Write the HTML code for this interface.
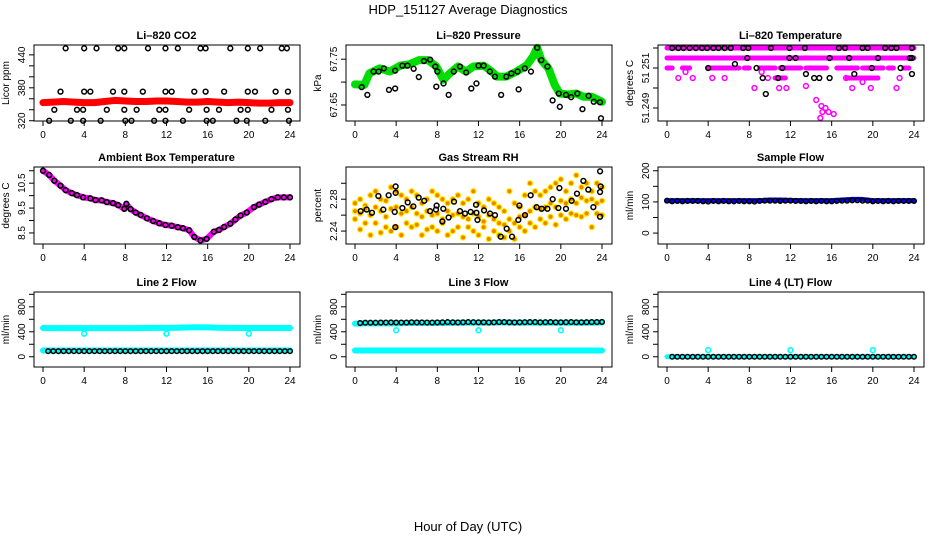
<!DOCTYPE html>
<html><head><meta charset="utf-8"><style>
html,body{margin:0;padding:0;background:#fff;}
svg{display:block;font-family:"Liberation Sans",Arial,sans-serif;}
</style></head><body>
<svg id="chart" width="936" height="540" viewBox="0 0 936 540">
<text x="468" y="14" text-anchor="middle" font-size="13">HDP_151127  Average Diagnostics</text>
<text x="468" y="531" text-anchor="middle" font-size="13">Hour of Day (UTC)</text>
</svg>
<script>
// ---- data ----
const xTicks = [0,4,8,12,16,20,24];
const halfHrs = [0,0.5,1,1.5,2,2.5,3,3.5,4,4.5,5,5.5,6,6.5,7,7.5,8,8.5,9,9.5,10,10.5,11,11.5,12,12.5,13,13.5,14,14.5,15,15.5,16,16.5,17,17.5,18,18.5,19,19.5,20,20.5,21,21.5,22,22.5,23,23.5,24];
const hrs = [0,1,2,3,4,5,6,7,8,9,10,11,12,13,14,15,16,17,18,19,20,21,22,23,24];

// CO2
const co2Red = [353,354,355,354,353,353,355,357,356,355,355,356,356,355,354,354,355,354,353,354,353,352,352,353,353];
const co2HiHrs = [2.2,4.0,5.2,7.3,7.9,10.2,11.9,13.1,15.3,15.8,18.2,19.9,21.1,23.2,23.7];
const co2MidHrs = [1.7,4.0,4.6,6.8,7.9,9.7,11.9,12.5,14.7,15.8,17.6,19.9,20.6,22.6,23.8];
const co2LowHrs = [1.1,3.3,3.9,6.2,7.9,9.1,11.3,11.9,14.2,15.9,17.1,19.2,19.9,22.2,23.8];
const co2MinHrs = [0.6,2.7,3.9,5.6,8.0,8.6,10.8,11.9,13.6,15.9,16.5,18.8,19.8,21.6,23.9];
const co2Levels = [452,373,340,320];

// Pressure
const presGreenHrs = [0,0.9,1.4,2.4,3.4,4.4,5.3,6.2,7.1,7.9,8.6,9.2,10.0,10.8,11.5,12.5,13.3,13.8,14.7,15.7,16.7,17.3,17.7,18.1,18.8,19.4,19.9,20.7,21.5,22.2,23.0,24];
const presGreen = [67.695,67.694,67.719,67.730,67.723,67.736,67.739,67.748,67.748,67.734,67.705,67.719,67.734,67.723,67.734,67.736,67.723,67.712,67.712,67.723,67.737,67.756,67.775,67.748,67.730,67.694,67.675,67.673,67.675,67.668,67.668,67.657];
const presBlackHrs = [0.65,1.2,1.8,2.3,2.8,3.3,3.9,3.9,4.6,5.1,5.7,6.2,6.7,7.3,7.8,8.0,7.9,8.6,9.1,9.6,10.2,10.8,11.3,11.8,12.0,12.5,13.1,13.6,14.2,14.7,15.2,15.8,15.9,16.5,17.1,17.7,18.1,18.7,19.2,19.8,19.9,20.5,21.0,21.6,22.1,22.7,23.2,23.8,23.9];
const presBlack = [67.689,67.672,67.723,67.723,67.730,67.683,67.725,67.686,67.736,67.736,67.729,67.711,67.746,67.749,67.734,67.723,67.690,67.697,67.672,67.723,67.734,67.721,67.686,67.697,67.736,67.736,67.723,67.712,67.672,67.712,67.719,67.723,67.684,67.730,67.723,67.775,67.748,67.734,67.660,67.675,67.646,67.672,67.667,67.675,67.641,67.670,67.657,67.656,67.621];

// Temperature
const tempSegStart = [0,0,0,1.5,4,7.5,9,11,13.5,16.5,19,21.5,23,10.5,17.5];
const tempSegEnd = [24,24,0.5,2.2,7,8,10.5,13,15.5,18.5,21,22,23.5,11.5,20.5];
const tempSegVal = [51.2520,51.2515,51.2510,51.2510,51.2510,51.2510,51.2510,51.2510,51.2510,51.2510,51.2510,51.2510,51.2510,51.2505,51.2505];
const tempMagHrs = [1.1,1.8,2.5,4.4,5.6,8.5,9.2,9.8,10.9,11.6,13.5,14.5,14.9,15.1,15.0,15.4,15.7,16.2,17.4,18.0,19.0,19.8,22.3,22.6];
const tempMag = [51.2505,51.2508,51.2505,51.2505,51.2505,51.2500,51.2508,51.2505,51.2500,51.2500,51.2501,51.2494,51.2485,51.2488,51.2491,51.2490,51.2488,51.2487,51.2505,51.2500,51.2503,51.2500,51.2500,51.2505];
const tempTopBlackHrs = [0.5,1.1,1.6,2.2,2.8,3.4,3.9,4.5,5.0,5.6,6.2,7.4,7.9,10.1,11.9,13.4,16.7,17.3,19.0,19.5,21.2,21.8,22.3,23.8];
const tempBlackHrs = [4,6.6,7.8,8.7,9.3,9.6,10.8,11.2,11.9,12.5,13.5,14.3,14.8,15.8,15.8,17.7,18.2,19.9,20.5,22.7,23.8,23.6,23.8];
const tempBlack = [51.2510,51.2512,51.2515,51.2510,51.2505,51.2497,51.2505,51.2510,51.2515,51.2515,51.2507,51.2505,51.2505,51.2505,51.2515,51.2515,51.2507,51.2510,51.2515,51.2510,51.2507,51.2515,51.2515];

// Ambient
const ambHrs = [0,0.6,1.1,1.7,2.2,2.8,3.3,3.9,4.6,5.1,5.7,6.2,6.8,7.3,7.9,8.1,8.5,9.0,9.5,10.1,10.7,11.3,11.9,12.5,13.1,13.6,14.2,14.7,15.3,15.9,16.6,17.1,17.6,18.2,18.7,19.2,19.8,20.5,21.0,21.6,22.2,22.8,23.4,24.0];
const ambVals = [11.0,10.83,10.6,10.4,10.22,10.1,10.02,9.93,9.89,9.82,9.81,9.74,9.7,9.62,9.47,9.67,9.46,9.32,9.22,9.09,8.98,8.89,8.82,8.79,8.73,8.69,8.61,8.34,8.2,8.26,8.55,8.62,8.74,8.87,9.04,9.2,9.32,9.54,9.64,9.75,9.86,9.93,9.93,9.93];

// Gas stream RH
const rhA = [2.275,2.28,2.272,2.285,2.29,2.28,2.278,2.295,2.29,2.285,2.28,2.29,2.285,2.275,2.28,2.29,2.285,2.28,2.275,2.28,2.285,2.275,2.28,2.29,2.275,2.27,2.28,2.275,2.27,2.265,2.29,2.275,2.27,2.285,2.3,2.29,2.285,2.29,2.295,2.3,2.305,2.29,2.3,2.31,2.295,2.3,2.29,2.3,2.295];
const rhB = [2.265,2.262,2.268,2.26,2.27,2.265,2.258,2.268,2.27,2.262,2.265,2.27,2.262,2.258,2.265,2.26,2.262,2.255,2.265,2.26,2.262,2.258,2.255,2.262,2.258,2.252,2.26,2.255,2.25,2.248,2.255,2.25,2.258,2.26,2.265,2.27,2.268,2.27,2.275,2.27,2.278,2.275,2.28,2.275,2.282,2.278,2.28,2.275,2.278];
const rhC = [2.255,2.242,2.25,2.235,2.25,2.238,2.245,2.24,2.245,2.235,2.25,2.245,2.248,2.235,2.242,2.245,2.24,2.25,2.235,2.24,2.245,2.232,2.245,2.24,2.235,2.245,2.23,2.24,2.235,2.232,2.24,2.23,2.245,2.24,2.25,2.245,2.255,2.25,2.258,2.248,2.26,2.255,2.262,2.26,2.258,2.262,2.245,2.262,2.26];
const rhBlackHrs = [0.55,1.13,1.65,2.27,2.75,3.27,3.86,3.92,3.95,3.95,4.6,5.12,5.67,6.19,6.73,7.29,7.87,7.93,8.49,8.58,9.1,9.62,10.2,10.69,11.24,11.76,11.8,11.9,12.54,13.12,13.6,14.16,14.74,15.26,15.87,15.97,16.52,17.07,17.65,18.14,18.7,19.21,19.76,19.86,20.5,21.05,21.57,22.19,22.67,23.16,23.81,23.87,23.81,23.81];
const rhBlack = [2.265,2.267,2.263,2.284,2.267,2.285,2.264,2.245,2.288,2.296,2.269,2.276,2.271,2.282,2.278,2.265,2.267,2.272,2.252,2.268,2.257,2.277,2.265,2.262,2.264,2.273,2.263,2.254,2.266,2.262,2.26,2.233,2.243,2.233,2.254,2.272,2.26,2.285,2.27,2.268,2.268,2.28,2.269,2.294,2.268,2.278,2.287,2.303,2.292,2.27,2.315,2.296,2.289,2.258];

// Sample flow
const sampleBlue = [104,104,104,104,104,104,104,104,104,104,106,106,105,104,104,104,104,106,108,108,104,104,104,104,104];
const sampleBlack = [104,102,103,102,103,103,103,102,101,103,102,103,102,102,103,102,102,101,103,104,104,104,103,104,104,103,103,102,103,102,103,102,102,103,104,104,105,105,104,104,102,103,102,103,102,103,103,103,103];

// Line 2 flow
const l2CyanHigh = [460,458,458,458,458,458,458,458,458,458,460,462,462,465,468,472,470,465,462,460,460,460,460,460,460];
const l2CyanLow = [100,100,100,100,100,100,100,100,100,100,100,100,100,100,100,100,100,100,100,100,100,100,100,100,100];
const l2Black = [90,90,90,90,90,90,90,90,90,90,90,90,90,90,90,90,90,90,90,90,90,90,90,90,90,90,90,90,90,90,90,90,90,90,90,90,90,90,90,90,90,90,90,90,90,90,90,90,90];
const dipHrs = [4,12,20];
const l2Dips = [370,370,370];

// Line 3 flow
const l3CyanHigh = [530,535,535,535,535,540,540,540,540,540,545,545,545,545,548,548,545,545,545,545,545,545,545,545,548];
const l3CyanLow = [100,100,100,100,100,100,100,100,100,100,100,100,100,100,100,100,100,100,100,100,100,100,100,100,100];
const l3Black = [540,540,545,545,545,548,548,550,548,548,548,552,550,550,548,548,550,552,555,552,550,552,555,553,552,552,550,552,555,555,552,550,552,553,555,555,552,553,555,552,552,553,555,552,552,553,555,555,558];
const l3Dips = [425,425,425];

// Line 4 flow
const l4Cyan = [0,0,0,0,0,0,0,0,0,0,0,0,0,0,0,0,0,0,0,0,0,0,0,0,0];
const l4Black = [0,0,0,0,0,0,0,0,0,0,0,0,0,0,0,0,0,0,0,0,0,0,0,0,0,0,0,0,0,0,0,0,0,0,0,0,0,0,0,0,0,0,0,0,0,0,0,0,0];
const l4Spikes = [107,107,107];

// ---- drawing ----
const svg = document.getElementById('chart');
const NS = 'http://www.w3.org/2000/svg';
function mk(tag, attrs, parent){const e=document.createElementNS(NS,tag);for(const k in attrs)e.setAttribute(k,attrs[k]);(parent||svg).appendChild(e);return e;}
const rowT=[45,167,292], rowB=[121,244,367];

function makePanel(c,r,lo,hi,yTicks,yLabels,title,ylab,name){
  const L=34+312*c, R=300+312*c, T=rowT[r], B=rowB[r];
  const g=mk('g',{});
  
  
  const X=h=>43+312*c+h*247/24;
  const Y=v=>B-(v-lo)/(hi-lo)*(B-T);
  const t=mk('text',{x:(X(0)+X(24))/2,y:T-6,'text-anchor':'middle','font-size':11,'font-weight':'bold'},g);
  t.textContent=title;
  
  
  xTicks.forEach(h=>{
    mk('line',{x1:X(h),x2:X(h),y1:B,y2:B+5,stroke:'#000','stroke-width':1},g);
    const tl=mk('text',{x:X(h),y:B+17,'text-anchor':'middle','font-size':10},g);
    tl.textContent=h;
    
    
  });
  mk('line',{x1:X(0),x2:X(24),y1:B,y2:B,stroke:'#000'},g);
  yTicks.forEach(v=>{mk('line',{x1:L-5,x2:L,y1:Y(v),y2:Y(v),stroke:'#000'},g);});
  yLabels.forEach(v=>{
    const yl=mk('text',{x:0,y:0,'text-anchor':'middle','font-size':10,transform:`translate(${L-9},${Y(v)}) rotate(-90)`},g);
    yl.textContent=String(v).replace('51.25','51 25');
    
    
  });
  const ya=mk('text',{x:0,y:0,'text-anchor':'middle','font-size':10,transform:`translate(${L-25},${(T+B)/2}) rotate(-90)`},g);
  ya.textContent=ylab;
  
  
  const plot=mk('g',{},g);
  mk('rect',{x:L,y:T,width:R-L,height:B-T,fill:'none',stroke:'#000','stroke-width':1},g);
  return {X,Y,g:plot};
}
function line(p,hs,vs,color,w,nm){
  const pl=mk('polyline',{points:hs.map((h,i)=>p.X(h)+','+p.Y(vs[i])).join(' '),fill:'none',stroke:color,'stroke-width':w,'stroke-linejoin':'round','stroke-linecap':'round'},p.g);
  
  
}
function pts(p,hs,vs,stroke,fill,r,sw,nm){
  hs.forEach((h,i)=>{
    const c=mk('circle',{cx:p.X(h),cy:p.Y(vs[i]),r:r,fill:fill,stroke:stroke,'stroke-width':sw},p.g);
    
    
  });
}
const K='#000';

// P1 CO2
let p=makePanel(0,0,319.5,458,[320,340,360,380,400,420,440],[320,380,440],'Li\u2013820 CO2','Licor ppm','co2-panel');
line(p,hrs,co2Red,'#ff0000',7,'co2-red-series');
[co2HiHrs,co2MidHrs,co2LowHrs,co2MinHrs].forEach((a,k)=>pts(p,a,a.map(()=>co2Levels[k]),K,'none',2.4,1.5,'co2-point'));

// P2 Pressure
p=makePanel(1,0,67.615,67.781,[67.65,67.70,67.75],[67.65,67.75],'Li\u2013820 Pressure','kPa','pressure-panel');
line(p,presGreenHrs,presGreen,'#00dd00',8,'pressure-green-series');
pts(p,presBlackHrs,presBlack,K,'none',2.4,1.5,'pressure-point');

// P3 Temperature
p=makePanel(2,0,51.24835,51.25215,[51.2490,51.2500,51.2510,51.2520],[51.249,51.251],'Li\u2013820 Temperature','degrees C','temp-panel');
tempSegStart.forEach((s,i)=>line(p,[s,tempSegEnd[i]],[tempSegVal[i],tempSegVal[i]],'#ff00ff',5,'temp-magenta-row'));
pts(p,tempMagHrs,tempMag,'#ff00ff','none',2.4,1.5,'temp-magenta-point');
pts(p,tempTopBlackHrs,tempTopBlackHrs.map(()=>51.2520),K,'none',2.4,1.5,'temp-point');
pts(p,tempBlackHrs,tempBlack,K,'none',2.4,1.5,'temp-point');

// P4 Ambient
p=makePanel(0,1,8.056,11.15,[8.5,9,9.5,10,10.5,11],[8.5,9.5,10.5],'Ambient Box Temperature','degrees C','ambient-panel');
line(p,ambHrs,ambVals,'#ff00ff',6,'ambient-magenta-series');
pts(p,ambHrs,ambVals,K,'none',2.4,1.6,'ambient-point');

// P5 RH
p=makePanel(1,1,2.2238,2.3204,[2.24,2.26,2.28,2.30],[2.24,2.28],'Gas Stream RH','percent','rh-panel');
[rhA,rhB,rhC].forEach(a=>pts(p,halfHrs,a,'#ffee00','#f08000',2.6,1.2,'rh-orange-point'));
pts(p,rhBlackHrs,rhBlack,K,'none',2.4,1.5,'rh-point');

// P6 Sample flow
p=makePanel(2,1,-35,212,[0,50,100,150,200],[0,100,200],'Sample Flow','ml/min','sample-flow-panel');
line(p,hrs,sampleBlue,'#0000ff',5,'sample-blue-series');
pts(p,halfHrs,sampleBlack,K,'none',2.3,1.5,'sample-point');

// P7 Line 2
p=makePanel(0,2,-164,1037,[0,200,400,600,800,1000],[0,400,800],'Line 2 Flow','ml/min','line2-panel');
line(p,hrs,l2CyanHigh,'#00ffff',6,'line2-cyan-high');
line(p,hrs,l2CyanLow,'#00ffff',6,'line2-cyan-low');
pts(p,dipHrs,l2Dips,'#00ffff','none',2.4,1.6,'line2-dip');
pts(p,halfHrs.slice(1),l2Black.slice(1),K,'none',2.3,1.5,'line2-point');

// P8 Line 3
p=makePanel(1,2,-164,1037,[0,200,400,600,800,1000],[0,400,800],'Line 3 Flow','ml/min','line3-panel');
line(p,hrs,l3CyanLow,'#00ffff',6,'line3-cyan-low');
line(p,hrs,l3CyanHigh,'#00ffff',6,'line3-cyan-high');
pts(p,dipHrs,l3Dips,'#00ffff','none',2.4,1.6,'line3-dip');
pts(p,halfHrs.slice(1),l3Black.slice(1),K,'none',2.3,1.5,'line3-point');

// P9 Line 4
p=makePanel(2,2,-164,1037,[0,200,400,600,800,1000],[0,400,800],'Line 4 (LT) Flow','ml/min','line4-panel');
line(p,hrs,l4Cyan,'#00ffff',5,'line4-cyan');
pts(p,dipHrs,l4Spikes,'#00ffff','none',2.4,1.6,'line4-spike');
pts(p,halfHrs.slice(1),l4Black.slice(1),K,'none',2.3,1.5,'line4-point');
</script>
</body></html>
